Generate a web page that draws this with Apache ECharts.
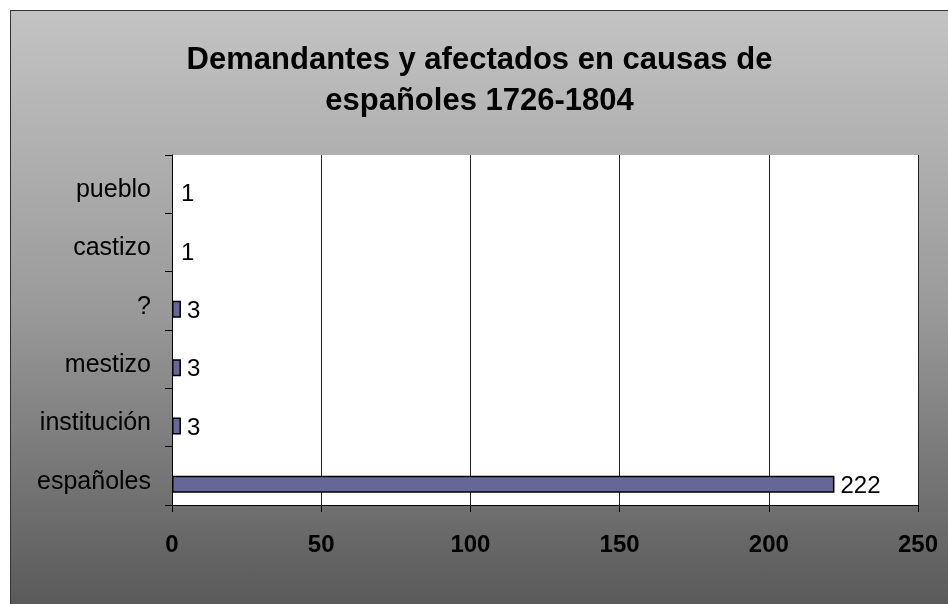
<!DOCTYPE html>
<html>
<head>
<meta charset="utf-8">
<script src="https://cdn.jsdelivr.net/npm/echarts@6/dist/echarts.min.js"></script>
<style>
  html, body { margin: 0; padding: 0; background: #fff; }
  #chart {
    position: absolute; left: 10px; top: 10px;
    width: 938px; height: 594px;
    border-left: 1px solid #333; border-top: 1px solid #333;
    box-sizing: border-box;
    background: linear-gradient(to bottom, #c3c3c3 0%, #9a9a9a 50%, #5a5a5a 100%);
  }
</style>
</head>
<body>
<div id="chart"></div>
<script>
// categories bottom to top
var categories = ["españoles", "institución", "mestizo", "?", "castizo", "pueblo"];
var values = [222, 3, 3, 3, 1, 1];
var xTicks = [0, 50, 100, 150, 200, 250];

var chart = echarts.init(document.getElementById("chart"));

var seriesData = values.map(function (v, i) {
  var item = { value: v };
  // the value-1 bars are not drawn in the original, only their labels
  if (v < 2) {
    item.itemStyle = { color: "transparent", borderWidth: 0 };
  }
  return item;
});

var option = {
  backgroundColor: "transparent",
  title: {
    text: "Demandantes y afectados en causas de\nespañoles 1726-1804",
    left: "center",
    top: 24,
    textStyle: {
      fontFamily: "Liberation Sans",
      fontSize: 31,
      fontWeight: "bold",
      color: "#000",
      lineHeight: 41
    }
  },
  grid: {
    left: 161,
    top: 144,
    width: 746,
    height: 350,
    show: true,
    backgroundColor: "#fff",
    borderWidth: 0
  },
  xAxis: {
    type: "value",
    min: xTicks[0],
    max: xTicks[xTicks.length - 1],
    interval: 50,
    axisLine: { show: true, lineStyle: { color: "#000", width: 1 } },
    axisTick: { show: true, length: 7, lineStyle: { color: "#000" } },
    splitLine: { show: true, lineStyle: { color: "#222", width: 1 } },
    axisLabel: {
      margin: 28,
      fontFamily: "Liberation Sans",
      fontSize: 24,
      fontWeight: "bold",
      color: "#000"
    }
  },
  yAxis: {
    type: "category",
    data: categories,
    axisLine: { show: true, lineStyle: { color: "#000", width: 1 } },
    axisTick: { show: true, length: 7, lineStyle: { color: "#000" } },
    axisLabel: {
      margin: 21,
      verticalAlign: "top",
      lineHeight: 12,
      fontFamily: "Liberation Sans",
      fontSize: 25,
      color: "#000"
    }
  },
  series: [{
    // empty slot: the original workbook has a second (blank) series,
    // which pushes the real bars below the middle of each category
    type: "bar",
    data: [],
    barWidth: 17,
    barGap: "0%"
  }, {
    type: "bar",
    data: seriesData,
    barWidth: 17,
    barGap: "0%",
    itemStyle: { color: "#666699", borderColor: "#000", borderWidth: 1.5 },
    label: {
      show: true,
      position: "right",
      distance: 6,
      offset: [0, 2],
      fontFamily: "Liberation Sans",
      fontSize: 24,
      color: "#000"
    },
    silent: true
  }]
};

chart.setOption(option);
</script>
</body>
</html>
